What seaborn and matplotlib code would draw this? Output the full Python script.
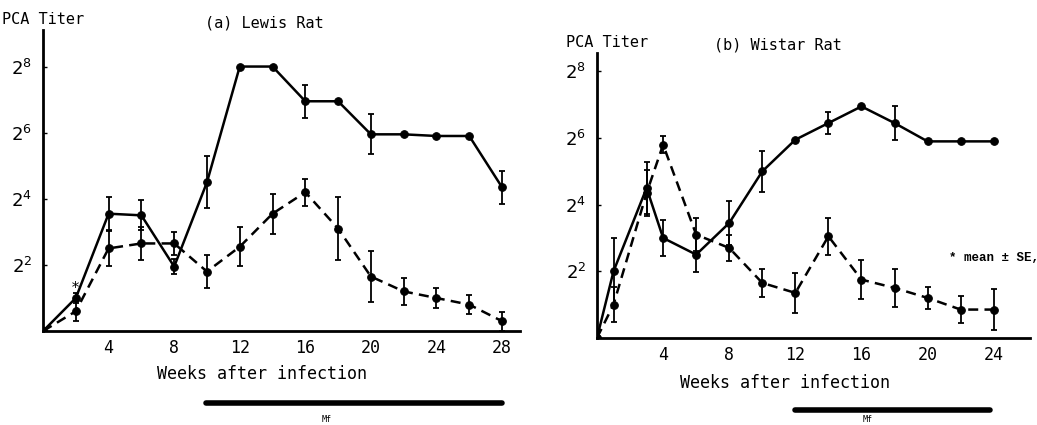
import matplotlib
matplotlib.use('Agg')
import matplotlib.pyplot as plt
import seaborn as sns
import pandas as pd
import numpy as np

# PCA titer values are the log2 exponents (2^n)
# (a) Lewis rat
lewis_weeks = [0, 2, 4, 6, 8, 10, 12, 14, 16, 18, 20, 22, 24, 26, 28]
lewis_solid = [0, 1.0, 3.55, 3.5, 1.95, 4.5, 8.0, 8.0, 6.95, 6.95, 5.95, 5.95, 5.9, 5.9, 4.35]
lewis_solid_se = [0, 0.15, 0.5, 0.45, 0.22, 0.78, 0, 0, 0.5, 0, 0.6, 0, 0, 0, 0.5]
lewis_dash = [0, 0.6, 2.5, 2.65, 2.65, 1.8, 2.55, 3.55, 4.2, 3.1, 1.65, 1.2, 1.0, 0.8, 0.3]
lewis_dash_se = [0, 0.3, 0.52, 0.5, 0.35, 0.49, 0.59, 0.6, 0.41, 0.95, 0.76, 0.41, 0.31, 0.29, 0.29]

# (b) Wistar rat
wistar_weeks = [0, 1, 3, 4, 6, 8, 10, 12, 14, 16, 18, 20, 22, 24]
wistar_solid = [0, 2.0, 4.5, 3.0, 2.5, 3.45, 5.0, 5.95, 6.45, 6.95, 6.45, 5.9, 5.9, 5.9]
wistar_solid_se = [0, 1.0, 0.78, 0.54, 0.52, 0.67, 0.61, 0, 0.32, 0, 0.51, 0, 0, 0]
wistar_dash = [0, 1.0, 4.35, 5.8, 3.1, 2.7, 1.65, 1.35, 3.05, 1.75, 1.5, 1.2, 0.85, 0.85]
wistar_dash_se = [0, 0.53, 0.7, 0.25, 0.5, 0.4, 0.41, 0.61, 0.55, 0.59, 0.58, 0.33, 0.4, 0.61]

y_ticks = [2, 4, 6, 8]
y_ticklabels = ['$2^{2}$', '$2^{4}$', '$2^{6}$', '$2^{8}$']

sns.set_theme(style='ticks')
plt.rcParams['font.family'] = ['DejaVu Sans Mono', 'DejaVu Sans']
plt.rcParams['mathtext.fontset'] = 'dejavusans'
plt.rcParams['text.color'] = 'black'
plt.rcParams['xtick.color'] = 'black'
plt.rcParams['ytick.color'] = 'black'
plt.rcParams['axes.edgecolor'] = 'black'


def draw_panel(ax, weeks, solid, solid_se, dash, dash_se, xticks, xlim, ylim):
    df = pd.DataFrame({'week': weeks, 'solid': solid, 'dash': dash})
    sns.lineplot(data=df, x='week', y='solid', ax=ax, color='black', lw=1.8,
                 marker='o', markersize=5.5, markeredgecolor='black')
    sns.lineplot(data=df, x='week', y='dash', ax=ax, color='black', lw=1.8,
                 linestyle=(0, (4, 2.5)), marker='o', markersize=5.5,
                 markeredgecolor='black')
    # error bars only where a SE was drawn
    for yv, se in [(solid, solid_se), (dash, dash_se)]:
        w = np.array(weeks)
        yv = np.array(yv)
        se = np.array(se)
        m = se > 0
        ax.errorbar(w[m], yv[m], yerr=se[m], fmt='none', ecolor='black',
                    elinewidth=1.3, capsize=2.5, capthick=1.3)
    ax.set_xlim(*xlim)
    ax.set_ylim(*ylim)
    ax.set_xticks(xticks)
    ax.set_xticklabels([str(t) for t in xticks], fontsize=12)
    ax.set_yticks(y_ticks)
    ax.set_yticklabels(y_ticklabels, fontsize=13)
    ax.tick_params(axis='x', length=0, pad=6)
    ax.tick_params(axis='y', direction='in', length=3, width=1, pad=8)
    ax.set_xlabel('')
    ax.set_ylabel('')
    for s in ['top', 'right']:
        ax.spines[s].set_visible(False)
    for s in ['left', 'bottom']:
        ax.spines[s].set_linewidth(2)


fig = plt.figure(figsize=(10.37, 4.25), dpi=100)
ax1 = fig.add_axes([0.0415, 0.221, 0.46, 0.708])
ax2 = fig.add_axes([0.5757, 0.205, 0.4176, 0.67])

draw_panel(ax1, lewis_weeks, lewis_solid, lewis_solid_se, lewis_dash, lewis_dash_se,
           [4, 8, 12, 16, 20, 24, 28], (0, 29.1), (0, 9.1))
draw_panel(ax2, wistar_weeks, wistar_solid, wistar_solid_se, wistar_dash, wistar_dash_se,
           [4, 8, 12, 16, 20, 24], (0, 26.2), (0, 8.55))

# labels and titles
fig.text(0.002, 0.953, 'PCA Titer', fontsize=11, va='center')
fig.text(0.198, 0.946, '(a) Lewis Rat', fontsize=11, va='center')
fig.text(0.546, 0.899, 'PCA Titer', fontsize=11, va='center')
fig.text(0.689, 0.894, '(b) Wistar Rat', fontsize=11, va='center')
fig.text(0.253, 0.12, 'Weeks after infection', fontsize=12, ha='center', va='center')
fig.text(0.757, 0.099, 'Weeks after infection', fontsize=12, ha='center', va='center')

ax1.text(2, 1.3, '*', fontsize=11, ha='center', va='center')
fig.text(0.915, 0.393, '* mean ± SE,', fontsize=9, family=['Liberation Mono', 'DejaVu Sans Mono'],
         fontweight='bold', va='center')

# Mf bars below each panel
fig.add_artist(plt.Line2D([206 / 1037, 502 / 1037], [1 - 403 / 425] * 2, color='black', lw=4))
fig.text(327 / 1037, 1 - 419 / 425, 'Mf', fontsize=6, ha='center', va='center')
fig.add_artist(plt.Line2D([795 / 1037, 990 / 1037], [1 - 410 / 425] * 2, color='black', lw=4))
fig.text(868 / 1037, 1 - 420 / 425, 'Mf', fontsize=6, ha='center', va='center')

plt.savefig('out.png', dpi=100)
plt.close()
